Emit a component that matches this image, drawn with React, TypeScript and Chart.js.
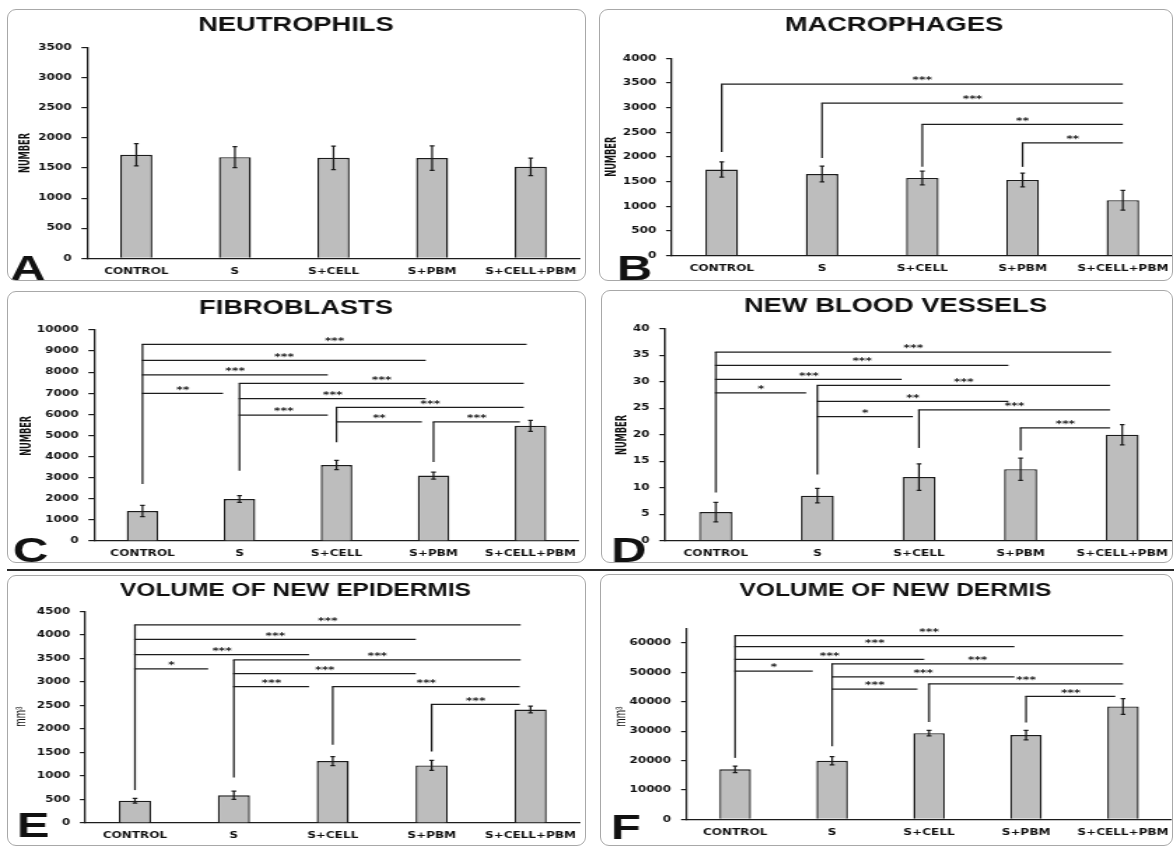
import React, { useEffect, useRef } from 'react';
import { Chart, registerables } from 'chart.js';

Chart.register(...registerables);

// ---------------- data ----------------
const categories = ['CONTROL', 'S', 'S+CELL', 'S+PBM', 'S+CELL+PBM'];

const panelTitles = ['NEUTROPHILS', 'MACROPHAGES', 'FIBROBLASTS', 'NEW BLOOD VESSELS', 'VOLUME OF NEW EPIDERMIS', 'VOLUME OF NEW DERMIS'];
const panelLetters = ['A', 'B', 'C', 'D', 'E', 'F'];
const yAxisTitles = ['NUMBER', 'NUMBER', 'NUMBER', 'NUMBER', 'mm\u00B3', 'mm\u00B3'];
const yAxisMax = [3500, 4000, 10000, 40, 4500, 65000];
const yAxisStep = [500, 500, 1000, 5, 500, 10000];
const yAxisLastLabel = [3500, 4000, 10000, 40, 4500, 60000];

const neutrophilsMean = [1720, 1680, 1670, 1665, 1520];
const neutrophilsErr = [185, 175, 195, 205, 145];

const macrophagesMean = [1745, 1655, 1575, 1535, 1125];
const macrophagesErr = [155, 160, 140, 140, 200];

const fibroblastsMean = [1420, 1990, 3600, 3100, 5460];
const fibroblastsErr = [270, 165, 220, 170, 260];

const vesselsMean = [5.4, 8.5, 12.0, 13.5, 20.0];
const vesselsErr = [1.85, 1.35, 2.5, 2.1, 1.9];

const epidermisMean = [475, 590, 1318, 1225, 2415];
const epidermisErr = [50, 88, 95, 105, 72];

const dermisMean = [17000, 19900, 29300, 28650, 38400];
const dermisErr = [1080, 1400, 950, 1580, 2650];

// significance brackets: [from category, to (category position), value, label]
type Bracket = [number, number, number, string];
type Stem = [number, number]; // [category, base value of the vertical stem]

const neutrophilsBrackets: Bracket[] = [];
const neutrophilsStems: Stem[] = [];

const macrophagesBrackets: Bracket[] = [
  [0, 4.0, 3475, '***'],
  [1, 4.0, 3090, '***'],
  [2, 4.0, 2660, '**'],
  [3, 4.0, 2285, '**'],
];
const macrophagesStems: Stem[] = [[0, 2100], [1, 1980], [2, 1800], [3, 1800]];

const fibroblastsBrackets: Bracket[] = [
  [0, 3.96, 9320, '***'],
  [0, 2.92, 8560, '***'],
  [0, 1.91, 7870, '***'],
  [0, 0.83, 7000, '**'],
  [1, 3.93, 7470, '***'],
  [1, 2.92, 6750, '***'],
  [1, 1.91, 5970, '***'],
  [2, 3.93, 6335, '***'],
  [2, 2.88, 5640, '**'],
  [3, 3.89, 5640, '***'],
];
const fibroblastsStems: Stem[] = [[0, 2700], [1, 3330], [2, 4680], [3, 3740]];

const vesselsBrackets: Bracket[] = [
  [0, 3.89, 35.6, '***'],
  [0, 2.88, 33.1, '***'],
  [0, 1.83, 30.45, '***'],
  [0, 0.89, 27.9, '*'],
  [1, 3.88, 29.3, '***'],
  [1, 2.88, 26.3, '**'],
  [1, 1.94, 23.4, '*'],
  [2, 3.88, 24.7, '***'],
  [3, 3.88, 21.3, '***'],
];
const vesselsStems: Stem[] = [[0, 9.1], [1, 12.5], [2, 17.5], [3, 17.0]];

const epidermisBrackets: Bracket[] = [
  [0, 3.9, 4215, '***'],
  [0, 2.84, 3905, '***'],
  [0, 1.76, 3585, '***'],
  [0, 0.74, 3280, '*'],
  [1, 3.9, 3470, '***'],
  [1, 2.84, 3180, '***'],
  [1, 1.76, 2900, '***'],
  [2, 3.89, 2900, '***'],
  [3, 3.89, 2525, '***'],
];
const epidermisStems: Stem[] = [[0, 700], [1, 970], [2, 1665], [3, 1520]];

const dermisBrackets: Bracket[] = [
  [0, 4.0, 62500, '***'],
  [0, 2.88, 58750, '***'],
  [0, 1.95, 54450, '***'],
  [0, 0.8, 50400, '*'],
  [1, 4.0, 52900, '***'],
  [1, 2.88, 48450, '***'],
  [1, 1.88, 44300, '***'],
  [2, 4.0, 46100, '***'],
  [3, 3.92, 41800, '***'],
];
const dermisStems: Stem[] = [[0, 20900], [1, 24900], [2, 33100], [3, 32900]];

const panelMeans = [neutrophilsMean, macrophagesMean, fibroblastsMean, vesselsMean, epidermisMean, dermisMean];
const panelErrs = [neutrophilsErr, macrophagesErr, fibroblastsErr, vesselsErr, epidermisErr, dermisErr];
const panelBrackets = [neutrophilsBrackets, macrophagesBrackets, fibroblastsBrackets, vesselsBrackets, epidermisBrackets, dermisBrackets];
const panelStems = [neutrophilsStems, macrophagesStems, fibroblastsStems, vesselsStems, epidermisStems, dermisStems];

// ---------------- layout (page pixels) ----------------
type Layout = {
  x: number; y: number; w: number; h: number;
  axisX: number; axisRight: number; topPx: number; zeroPx: number;
  titleX: number; titleY: number; titleSize: number;
  letterX: number; letterBase: number;
  yTitleX: number; yTitleY: number;
};

const layouts: Layout[] = [
  { x: 7, y: 9, w: 579, h: 272, axisX: 87, axisRight: 580, topPx: 47.7, zeroPx: 258.3, titleX: 296, titleY: 26, titleSize: 19.5, letterX: 10, letterBase: 280, yTitleX: 25.6, yTitleY: 153 },
  { x: 599, y: 9, w: 574, h: 272, axisX: 671.6, axisRight: 1173, topPx: 58.3, zeroPx: 255.7, titleX: 894, titleY: 26, titleSize: 19.5, letterX: 617, letterBase: 280, yTitleX: 611.3, yTitleY: 156.7 },
  { x: 7, y: 291, w: 579, h: 272, axisX: 94, axisRight: 579, topPx: 330, zeroPx: 541, titleX: 296, titleY: 308.3, titleSize: 19.5, letterX: 13, letterBase: 562, yTitleX: 26.3, yTitleY: 435.8 },
  { x: 601, y: 290, w: 572, h: 273, axisX: 665, axisRight: 1173, topPx: 328.7, zeroPx: 540.7, titleX: 895.5, titleY: 306.7, titleSize: 19.5, letterX: 611, letterBase: 562, yTitleX: 622.6, yTitleY: 435 },
  { x: 7, y: 575, w: 579, h: 271, axisX: 85.5, axisRight: 580, topPx: 611.5, zeroPx: 823, titleX: 295.5, titleY: 590.7, titleSize: 17.5, letterX: 16.7, letterBase: 836.7, yTitleX: 22, yTitleY: 716.7 },
  { x: 600, y: 574, w: 573, h: 272, axisX: 686.6, axisRight: 1171.5, topPx: 628.3, zeroPx: 819.3, titleX: 895.5, titleY: 590.7, titleSize: 17.5, letterX: 611, letterBase: 839.3, yTitleX: 621.5, yTitleY: 716.7 },
];

// ---------------- styles ----------------
const STRETCH = 1.4;
const INK = '#1c1c1c';
const BAR_FILL = '#bdbdbd';
const FONT_TICK = "'DejaVu Sans', Verdana, sans-serif";
const FONT_TITLE = "'Liberation Sans', Arial, Helvetica, sans-serif";
const FONT_NARROW = "'Liberation Sans Narrow', 'Arial Narrow', 'DejaVu Sans Condensed', sans-serif";

function Panel({ index }: { index: number }) {
  const ref = useRef<HTMLCanvasElement>(null);
  const lay = layouts[index];
  const cw = Math.round(lay.w / STRETCH);
  const s = lay.w / cw;

  useEffect(() => {
    const canvas = ref.current;
    if (!canvas) return;
    const toCX = (px: number) => (px - lay.x) / s;
    const toCY = (py: number) => py - lay.y;
    const yW = toCX(lay.axisX);
    const padR = Math.max(0, (lay.x + lay.w - lay.axisRight) / s);
    const padT = lay.topPx - lay.y;
    const xH = lay.y + lay.h - lay.zeroPx;
    const means = panelMeans[index];
    const errs = panelErrs[index];
    const brackets = panelBrackets[index];
    const stems = panelStems[index];
    const lastLabel = yAxisLastLabel[index];
    const step = yAxisStep[index];

    const decor = {
      id: 'decor' + index,
      afterDatasetsDraw(chart: any) {
        const ctx = chart.ctx as CanvasRenderingContext2D;
        const xs = chart.scales.x;
        const ys = chart.scales.y;
        ctx.save();
        ctx.strokeStyle = INK;
        ctx.fillStyle = INK;
        ctx.lineWidth = 1.25;
        ctx.lineCap = 'butt';
        // error bars
        means.forEach((m, i) => {
          const e = errs[i];
          const px = xs.getPixelForValue(i);
          const yt = ys.getPixelForValue(m + e);
          const yb = ys.getPixelForValue(m - e);
          const cap = 1.7;
          ctx.beginPath();
          ctx.moveTo(px, yt);
          ctx.lineTo(px, yb);
          ctx.moveTo(px - cap, yt);
          ctx.lineTo(px + cap, yt);
          ctx.moveTo(px - cap, yb);
          ctx.lineTo(px + cap, yb);
          ctx.stroke();
        });
        // stems
        stems.forEach(([cat, base]) => {
          const vals = brackets.filter((b) => b[0] === cat).map((b) => b[2]);
          if (!vals.length) return;
          const top = Math.max(...vals);
          const px = xs.getPixelForValue(cat);
          ctx.beginPath();
          ctx.moveTo(px, ys.getPixelForValue(base));
          ctx.lineTo(px, ys.getPixelForValue(top));
          ctx.stroke();
        });
        // brackets
        ctx.font = `bold 9px ${FONT_TICK}`;
        ctx.textAlign = 'center';
        ctx.textBaseline = 'alphabetic';
        brackets.forEach(([from, to, val, label]) => {
          const x0 = xs.getPixelForValue(from);
          const x1 = xs.getPixelForValue(to);
          const py = ys.getPixelForValue(val);
          ctx.beginPath();
          ctx.moveTo(x0 - 0.6, py);
          ctx.lineTo(x1, py);
          ctx.stroke();
          ctx.fillText(label, (x0 + x1) / 2, py - 0.8);
        });
        ctx.restore();
      },
      afterDraw(chart: any) {
        const ctx = chart.ctx as CanvasRenderingContext2D;
        ctx.save();
        ctx.fillStyle = '#111';
        // title
        ctx.font = `bold ${lay.titleSize}px ${FONT_TITLE}`;
        ctx.textAlign = 'center';
        ctx.textBaseline = 'middle';
        ctx.fillText(panelTitles[index], toCX(lay.titleX), toCY(lay.titleY));
        // panel letter
        ctx.font = `bold 35px ${FONT_TITLE}`;
        ctx.textAlign = 'left';
        ctx.textBaseline = 'alphabetic';
        ctx.fillText(panelLetters[index], toCX(lay.letterX), Math.min(toCY(lay.letterBase), lay.h - 1));
        // y-axis title
        const yt = yAxisTitles[index];
        ctx.translate(toCX(lay.yTitleX), toCY(lay.yTitleY));
        ctx.rotate(-Math.PI / 2);
        ctx.textAlign = 'center';
        ctx.textBaseline = 'middle';
        if (yt === 'NUMBER') {
          ctx.font = `bold 11px ${FONT_NARROW}`;
          const w = ctx.measureText(yt).width;
          const target = 40;
          if (w > target * 1.05) ctx.scale(target / w, 1);
        } else {
          ctx.font = `10px ${FONT_TITLE}`;
        }
        ctx.fillText(yt, 0, 0);
        ctx.restore();
      },
    };

    const chart = new Chart(canvas, {
      type: 'bar',
      data: {
        labels: categories,
        datasets: [
          {
            data: means,
            backgroundColor: BAR_FILL,
            borderColor: INK,
            borderWidth: 1.4,
            barPercentage: 0.325,
            categoryPercentage: 1,
          },
        ],
      },
      options: {
        animation: false,
        responsive: false,
        maintainAspectRatio: false,
        events: [],
        layout: { padding: { left: 0, right: padR, top: padT, bottom: 0 } },
        plugins: {
          legend: { display: false },
          tooltip: { enabled: false },
          title: { display: false },
        },
        scales: {
          x: {
            offset: true,
            grid: { display: false, drawTicks: false },
            border: { display: true, color: INK, width: 1.3 },
            ticks: {
              color: '#111',
              font: { family: FONT_TICK, size: 8.6, weight: 'bold' },
              padding: 8,
              maxRotation: 0,
              minRotation: 0,
              autoSkip: false,
            },
            afterFit: (sc: any) => {
              sc.height = xH;
              sc.paddingLeft = 0;
              sc.paddingRight = 0;
            },
          },
          y: {
            min: 0,
            max: yAxisMax[index],
            ticks: {
              stepSize: step,
              color: '#111',
              font: { family: FONT_TICK, size: 8.6, weight: 'bold' },
              padding: 7,
              callback: (v: any) => String(v),
            },
            grid: { display: true, drawOnChartArea: false, drawTicks: true, tickLength: 4, color: INK, lineWidth: 1.2 },
            border: { display: true, color: INK, width: 1.3 },
            afterBuildTicks: (sc: any) => {
              const list: { value: number }[] = [];
              for (let k = 0; k * step <= lastLabel + step * 1e-6; k++) {
                list.push({ value: Math.round(k * step * 1000) / 1000 });
              }
              sc.ticks = list;
            },
            afterFit: (sc: any) => {
              sc.width = yW;
              sc.paddingTop = 0;
              sc.paddingBottom = 0;
            },
          },
        },
      } as any,
      plugins: [decor],
    });
    return () => chart.destroy();
  }, [index]);

  return (
    <div style={{ position: 'absolute', left: lay.x, top: lay.y, width: lay.w, height: lay.h }}>
      <div
        style={{
          position: 'absolute',
          left: 0,
          top: 0,
          width: cw,
          height: lay.h,
          transform: `scaleX(${s})`,
          transformOrigin: '0 0',
        }}
      >
        <canvas ref={ref} width={cw} height={lay.h} style={{ display: 'block', width: cw, height: lay.h }} />
      </div>
      <div
        style={{
          position: 'absolute',
          left: 0,
          top: 0,
          right: 0,
          bottom: 0,
          border: '1px solid #a8a8a8',
          borderRadius: 9,
          boxSizing: 'border-box',
          pointerEvents: 'none',
        }}
      />
    </div>
  );
}

export default function App() {
  return (
    <div
      style={{
        position: 'absolute',
        left: 0,
        top: 0,
        width: 1174,
        height: 848,
        background: '#ffffff',
        overflow: 'hidden',
      }}
    >
      {layouts.map((_, i) => (
        <Panel key={i} index={i} />
      ))}
      <div style={{ position: 'absolute', left: 7, top: 568.5, width: 1167, height: 2.5, background: '#2a2a2a' }} />
    </div>
  );
}
